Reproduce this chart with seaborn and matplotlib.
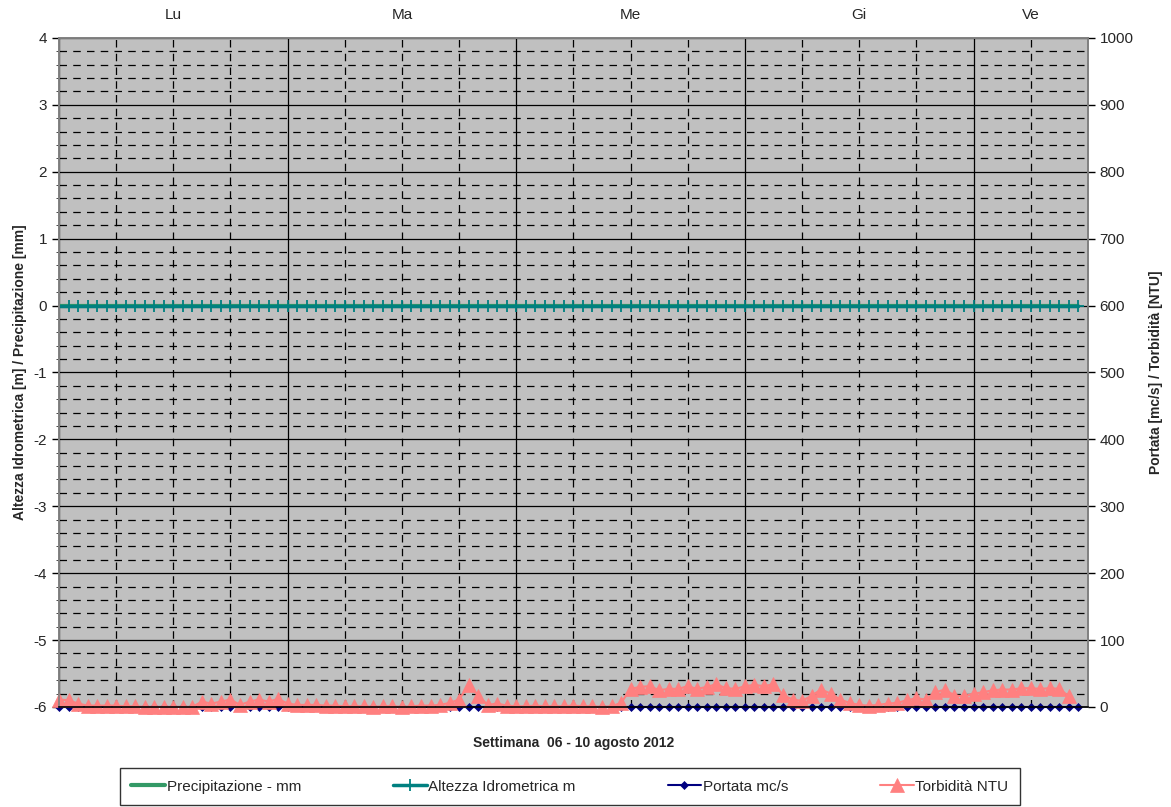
import numpy as np
import pandas as pd
import matplotlib
matplotlib.use('Agg')
import matplotlib.pyplot as plt
import matplotlib.transforms as mtransforms
from matplotlib.ticker import MultipleLocator, NullFormatter
import seaborn as sns

# dati orari (ore dall'inizio della settimana)
ore = list(range(108))
giorni = ['Lu', 'Ma', 'Me', 'Gi', 'Ve']
centri_giorni = [12, 36, 60, 84, 102]

precipitazione = [0.0] * 108
altezza = [0.0] * 108
portata = [0.0] * 108
torbidita = [11, 10, 5, 2, 2, 2, 2, 1, 1, 0, 0, 0, 0, 0, 0, 8, 5, 8, 11, 3,
             8, 11, 8, 12, 5, 3, 3, 3, 2, 2, 1, 1, 1, 0, 1, 1, 0, 1, 2, 2,
             3, 6, 11, 33, 17, 3, 5, 2, 1, 1, 2, 1, 1, 1, 2, 1, 1, 0, 1, 6,
             27, 30, 31, 25, 27, 27, 31, 27, 30, 34, 28, 27, 31, 33, 31, 34, 18, 11, 9, 17,
             26, 20, 11, 6, 3, 2, 3, 5, 6, 10, 13, 11, 22, 26, 17, 16, 20, 22, 25, 26,
             26, 28, 28, 27, 28, 27, 16]

df = pd.DataFrame({'ora': ore, 'precipitazione': precipitazione,
                   'altezza': altezza, 'portata': portata})
df_torb = pd.DataFrame({'ora': ore[:len(torbidita)], 'torbidita': torbidita})

sns.set_style('white')
plt.rcParams['font.family'] = ['Liberation Sans', 'DejaVu Sans']
plt.rcParams['axes.unicode_minus'] = False

fig, ax = plt.subplots(figsize=(11.71, 8.07), dpi=100)
fig.subplots_adjust(left=0.0504, right=0.929, top=0.953, bottom=0.124)
ax.set_facecolor('#C0C0C0')

# asse sinistro: precipitazione e altezza idrometrica
sns.lineplot(data=df, x='ora', y='precipitazione', ax=ax, color='#339966',
             linewidth=3, label='Precipitazione - mm')
sns.lineplot(data=df, x='ora', y='altezza', ax=ax, color='#008080',
             linewidth=2.5, marker='+', markersize=9, markeredgewidth=1.3,
             markeredgecolor='#008080', label='Altezza Idrometrica m')
ax.set_xlim(0, 108)
ax.set_ylim(-6, 4)
ax.yaxis.set_major_locator(MultipleLocator(1))
ax.yaxis.set_minor_locator(MultipleLocator(0.2))
ax.xaxis.set_major_locator(MultipleLocator(24))
ax.xaxis.set_minor_locator(MultipleLocator(6))
ax.xaxis.set_major_formatter(NullFormatter())
ax.grid(which='major', color='black', linewidth=0.9, linestyle='-')
ax.grid(which='minor', color='black', linewidth=0.9, linestyle=(0, (6, 5)))
ax.set_axisbelow(True)
ax.tick_params(axis='y', which='major', left=True, length=5, width=1,
               labelsize=11, color='black')
ax.tick_params(axis='y', which='minor', left=False)
ax.tick_params(axis='x', which='both', bottom=False)
ax.set_ylabel('Altezza Idrometrica [m] / Precipitazione [mm]',
              fontsize=10, fontweight='bold', labelpad=5)
ax.set_xlabel('Settimana  06 - 10 agosto 2012', fontsize=10,
              fontweight='bold', labelpad=14)

# asse destro: portata e torbidita
ax2 = ax.twinx()
sns.lineplot(data=df, x='ora', y='portata', ax=ax2, color='#000080',
             linewidth=1.5, marker='D', markersize=4.5, markeredgewidth=0.5,
             markeredgecolor='#000080', clip_on=False, label='Portata mc/s')
sns.lineplot(data=df_torb, x='ora', y='torbidita', ax=ax2, color='#FF8080',
             linewidth=1.5, marker='^', markersize=10, markeredgewidth=0.5,
             markeredgecolor='#FF8080', clip_on=False, label='Torbidità NTU')
ax2.set_ylim(0, 1000)
ax2.yaxis.set_major_locator(MultipleLocator(100))
ax2.tick_params(axis='y', right=True, length=5, width=1, labelsize=11,
                color='black')
ax2.set_ylabel('Portata [mc/s] / Torbidità [NTU]', fontsize=10,
               fontweight='bold', labelpad=11)
ax2.set_xlim(0, 108)

for a in (ax, ax2):
    for s in a.spines.values():
        s.set_color('#808080')
        s.set_linewidth(1.2)
ax2.spines['bottom'].set_color('black')

# etichette dei giorni in alto
trans = mtransforms.blended_transform_factory(ax.transData, ax.transAxes)
for c, g in zip(centri_giorni, giorni):
    ax.text(c, 1.035, g, transform=trans, ha='center', va='center', fontsize=11)

# legenda comune
h1, l1 = ax.get_legend_handles_labels()
h2, l2 = ax2.get_legend_handles_labels()
for a in (ax, ax2):
    if a.get_legend() is not None:
        a.get_legend().remove()
leg = fig.legend(h1 + h2, l1 + l2, ncol=4, mode='expand',
                 bbox_to_anchor=(120 / 1171, 2 / 807, 900 / 1171, 36 / 807),
                 loc='lower left', fontsize=11, frameon=True, fancybox=False,
                 edgecolor='black', handlelength=2.2, handletextpad=0.1,
                 borderaxespad=0, borderpad=0.75)
leg.get_frame().set_linewidth(1)

fig.savefig('out.png', dpi=100)
